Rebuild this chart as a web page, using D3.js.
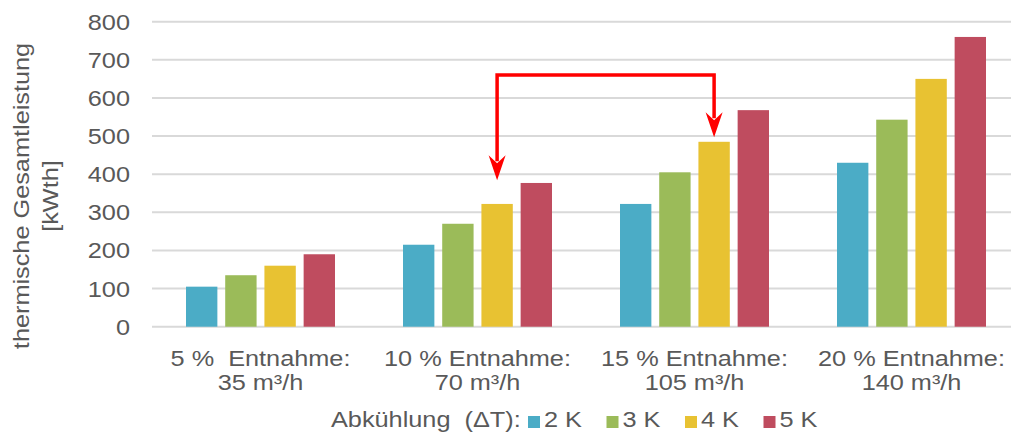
<!DOCTYPE html>
<html>
<head>
<meta charset="utf-8">
<script src="https://cdn.jsdelivr.net/npm/d3@7/dist/d3.min.js"></script>
<style>
  body { margin: 0; background: #fff; }
  text { font-family: "Liberation Sans", Arial, sans-serif; fill: #595959; white-space: pre; }
</style>
</head>
<body>
<div id="chart"></div>
<script>
// categories (two label lines each)
var categories = ["5 %", "10 %", "15 %", "20 %"];
var catLine1 = ["5 %  Entnahme:", "10 % Entnahme:", "15 % Entnahme:", "20 % Entnahme:"];
var catLine2 = ["35 m³/h", "70 m³/h", "105 m³/h", "140 m³/h"];

// series = cooling delta T
var series = ["2 K", "3 K", "4 K", "5 K"];
var colors = ["#4BACC6", "#9BBB59", "#E8C232", "#BF4C5F"];

// values per series, one entry per category
var values2K = [105, 215, 322, 430];
var values3K = [135, 270, 405, 543];
var values4K = [160, 322, 485, 650];
var values5K = [190, 377, 568, 760];
var allValues = [values2K, values3K, values4K, values5K];

var yTicks = [0, 100, 200, 300, 400, 500, 600, 700, 800];

// red arrow annotation: from "10 %"/4 K up over to "15 %"/4 K
var arrowTop = 660;
var arrowTips = [384, 497];

var W = 1011, H = 436;
var svg = d3.select("#chart").append("svg")
  .attr("width", W)
  .attr("height", H);

var x = d3.scaleBand().domain(categories).range([152, 1020]);
var xs = d3.scaleBand().domain(series).range([34, 183]).paddingInner(0.2);
var y = d3.scaleLinear().domain([0, 800]).range([326.7, 21.7]);

var stretch = 1.15;

// gridlines
svg.append("g").selectAll("line")
  .data(yTicks)
  .enter().append("line")
  .attr("x1", 152).attr("x2", W)
  .attr("y1", function(d) { return y(d); })
  .attr("y2", function(d) { return y(d); })
  .attr("stroke", "#D9D9D9")
  .attr("stroke-width", 2);

// y tick labels
svg.append("g").selectAll("text")
  .data(yTicks)
  .enter().append("text")
  .attr("text-anchor", "end")
  .attr("font-size", 22)
  .attr("transform", function(d) { return "translate(130," + (y(d) + 8) + ") scale(" + stretch + ",1)"; })
  .text(function(d) { return d; });

// y title
svg.append("text")
  .attr("text-anchor", "middle")
  .attr("font-size", 22)
  .attr("transform", "translate(29,196) rotate(-90) scale(" + stretch + ",1)")
  .text("thermische Gesamtleistung");
svg.append("text")
  .attr("text-anchor", "middle")
  .attr("font-size", 22)
  .attr("transform", "translate(58,196) rotate(-90) scale(" + stretch + ",1)")
  .text("[kWth]");

// bars
var groups = svg.append("g").selectAll("g")
  .data(series)
  .enter().append("g")
  .attr("fill", function(d, i) { return colors[i]; });

groups.selectAll("rect")
  .data(function(s, i) {
    return allValues[i].map(function(v, j) { return { cat: categories[j], s: s, v: v }; });
  })
  .enter().append("rect")
  .attr("x", function(d) { return x(d.cat) + xs(d.s); })
  .attr("width", xs.bandwidth())
  .attr("y", function(d) { return y(d.v); })
  .attr("height", function(d) { return y(0) - y(d.v); });

// x labels
categories.forEach(function(c, i) {
  var cx = x(c) + x.bandwidth() / 2;
  svg.append("text")
    .attr("text-anchor", "middle")
    .attr("font-size", 22)
    .attr("transform", "translate(" + cx + ",366) scale(" + stretch + ",1)")
    .text(catLine1[i]);
  svg.append("text")
    .attr("text-anchor", "middle")
    .attr("font-size", 22)
    .attr("transform", "translate(" + cx + ",390) scale(" + stretch + ",1)")
    .text(catLine2[i]);
});

// legend
svg.append("text")
  .attr("font-size", 22)
  .attr("transform", "translate(331,427) scale(" + stretch + ",1)")
  .text("Abkühlung  (ΔT):");

var leg = svg.append("g").selectAll("g")
  .data(series)
  .enter().append("g")
  .attr("transform", function(d, i) { return "translate(" + (528 + i * 78.5) + ",0)"; });
leg.append("rect")
  .attr("x", 0).attr("y", 416)
  .attr("width", 12).attr("height", 12)
  .attr("fill", function(d, i) { return colors[i]; });
leg.append("text")
  .attr("font-size", 22)
  .attr("transform", "translate(16,427) scale(" + stretch + ",1)")
  .text(function(d) { return d; });

// arrow
var ax1 = x(categories[1]) + xs("4 K") + xs.bandwidth() / 2;
var ax2 = x(categories[2]) + xs("4 K") + xs.bandwidth() / 2;
var headLen = 25;
svg.append("path")
  .attr("d", "M" + ax1 + "," + (y(arrowTips[0]) - headLen + 6) +
    "L" + ax1 + "," + y(arrowTop) +
    "L" + ax2 + "," + y(arrowTop) +
    "L" + ax2 + "," + (y(arrowTips[1]) - headLen + 6))
  .attr("fill", "none")
  .attr("stroke", "#FF0000")
  .attr("stroke-width", 3.5);

[[ax1, arrowTips[0]], [ax2, arrowTips[1]]].forEach(function(p) {
  var tx = p[0], ty = y(p[1]);
  svg.append("path")
    .attr("d", "M" + tx + "," + ty +
      "L" + (tx - 8.5) + "," + (ty - headLen) +
      "L" + tx + "," + (ty - 17) +
      "L" + (tx + 8.5) + "," + (ty - headLen) + "Z")
    .attr("fill", "#FF0000");
});
</script>
</body>
</html>
